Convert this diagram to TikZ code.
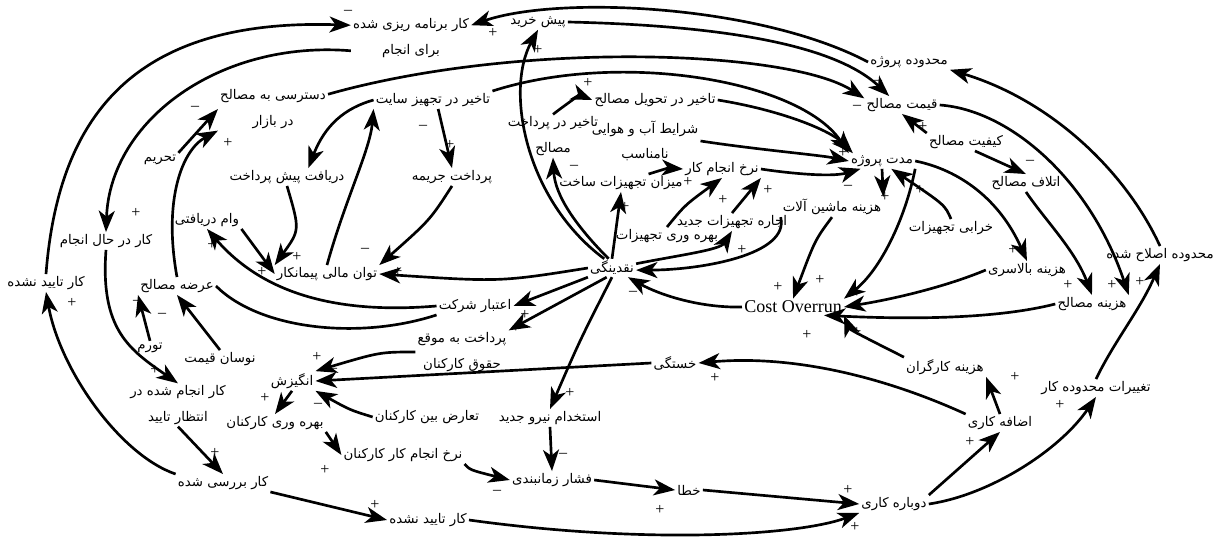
\documentclass[tikz,border=0pt]{standalone}
\usepackage{fontspec}
\setmainfont{Liberation Serif}
\newfontfamily\arabicfont[Script=Arabic]{DejaVu Sans}
\TeXXeTstate=1
\usetikzlibrary{arrows.meta}
\newcommand{\fa}[1]{{\arabicfont\beginR #1\endR}}

\begin{document}
\begin{tikzpicture}[x=0.75pt,y=-0.75pt,
    var/.style={font=\fontsize{10}{19}\selectfont, align=center, inner sep=1.5pt},
    lnk/.style={line width=2pt, -{Stealth[length=16pt,width=12pt,inset=4.5pt]}},
    sgn/.style={font=\fontsize{12}{12}\selectfont, inner sep=0pt}]
\useasboundingbox (0,0) rectangle (1215,539);

% variables
\node[var] (plan) at (411,38) {\fa{کار برنامه ریزی شده}\\\fa{برای انجام}};
\node[var] (prepur) at (538,22) {\fa{پیش خرید}};
\node[var] (scope) at (909,62) {\fa{محدوده پروژه}};
\node[var] (mprice) at (902,105) {\fa{قیمت مصالح}};
\node[var] (access) at (273,109) {\fa{دسترسی به مصالح}\\\fa{در بازار}};
\node[var] (sitedel) at (433,100) {\fa{تاخیر در تجهیز سایت}};
\node[var] (delivdel) at (655,100) {\fa{تاخیر در تحویل مصالح}};
\node[var] (paydel) at (553,136) {\fa{تاخیر در پرداخت}\\\fa{مصالح}};
\node[var] (weather) at (645,141) {\fa{شرایط آب و هوایی}\\\fa{نامناسب}};
\node[var] (mqual) at (966,142) {\fa{کیفیت مصالح}};
\node[var] (dur) at (882,161) {\fa{مدت پروژه}};
\node[var] (sanction) at (160,160) {\fa{تحریم}};
\node[var] (advance) at (287,177) {\fa{دریافت پیش پرداخت}};
\node[var] (penalty) at (452,177) {\fa{پرداخت جریمه}};
\node[var] (equip) at (621,183) {\fa{میزان تجهیزات ساخت}};
\node[var] (rate) at (722,169) {\fa{نرخ انجام کار}};
\node[var] (waste) at (1026,183) {\fa{اتلاف مصالح}};
\node[var] (mach) at (832,207) {\fa{هزینه ماشین آلات}};
\node[var] (rent) at (732,222) {\fa{اجاره تجهیزات جدید}};
\node[var] (loan) at (207,220) {\fa{وام دریافتی}};
\node[var] (wip) at (106,241) {\fa{کار در حال انجام}};
\node[var] (breakd) at (951,228) {\fa{خرابی تجهیزات}};
\node[var] (eqprod) at (667,236) {\fa{بهره وری تجهیزات}};
\node[var] (capab) at (327,274) {\fa{توان مالی پیمانکار}};
\node[var] (cash) at (612,268) {\fa{نقدینگی}};
\node[var] (overh) at (1027,270) {\fa{هزینه بالاسری}};
\node[var] (scopemod) at (1160,255) {\fa{محدوده اصلاح شده}};
\node[var] (unapp1) at (46,283) {\fa{کار تایید نشده}};
\node[var] (supply) at (177,286) {\fa{عرضه مصالح}};
\node[var, font=\fontsize{13.5}{13.5}\selectfont] (cost) at (793,307) {Cost Overrun};
\node[var] (mcost) at (1092,304) {\fa{هزینه مصالح}};
\node[var] (credit) at (475,306) {\fa{اعتبار شرکت}};
\node[var] (infl) at (150,348) {\fa{تورم}};
\node[var] (fluct) at (220,359) {\fa{نوسان قیمت}};
\node[var] (ontime) at (462,352) {\fa{پرداخت به موقع}\\\fa{حقوق کارکنان}};
\node[var] (fatigue) at (675,363) {\fa{خستگی}};
\node[var] (labcost) at (945,367) {\fa{هزینه کارگران}};
\node[var] (motiv) at (292,381) {\fa{انگیزش}};
\node[var] (conflict) at (427,417) {\fa{تعارض بین کارکنان}};
\node[var] (hire) at (550,418) {\fa{استخدام نیرو جدید}};
\node[var] (pend) at (178,405) {\fa{کار انجام شده در}\\\fa{انتظار تایید}};
\node[var] (staffprod) at (275,423) {\fa{بهره وری کارکنان}};
\node[var] (staffrate) at (403,455) {\fa{نرخ انجام کار کارکنان}};
\node[var] (sched) at (552,480) {\fa{فشار زمانبندی}};
\node[var] (err) at (689,490) {\fa{خطا}};
\node[var] (reviewed) at (223,483) {\fa{کار بررسی شده}};
\node[var] (unapp2) at (428,520) {\fa{کار تایید نشده}};
\node[var] (rework) at (894,504) {\fa{دوباره کاری}};
\node[var] (overtime) at (1000,423) {\fa{اضافه کاری}};
\node[var] (scopech) at (1096,388) {\fa{تغییرات محدوده کار}};

% work loop on the left
\draw[lnk] (unapp1.north) .. controls (58,120) and (130,18) .. (plan.168);
\draw[lnk] (plan.192) .. controls (220,40) and (110,120) .. (wip.north);
\draw[lnk] (wip.south) .. controls (100,330) and (130,350) .. (pend.north);
\draw[lnk] (pend.south) -- (reviewed.north);
\draw[lnk] (reviewed.north west) .. controls (120,455) and (60,370) .. (unapp1.south);
\draw[lnk] (reviewed.south east) -- (unapp2.west);
\draw[lnk] (unapp2.east) .. controls (650,545) and (800,535) .. (rework.south west);
\draw[lnk] (scope.west) .. controls (760,5) and (560,-5) .. (plan.12);

% materials
\draw[lnk] (sanction.north east) -- (access.west);
\draw[lnk] (supply.north) .. controls (163,200) and (182,150) .. (access.south west);
\draw[lnk] (infl.north) -- (supply.south west);
\draw[lnk] (fluct.north) -- (supply.south);
\draw[lnk] (access.15) .. controls (520,40) and (790,50) .. (mprice.170);
\draw[lnk] (prepur.east) .. controls (700,25) and (830,40) .. (mprice.145);
\draw[lnk] (mqual.north west) -- (mprice.south);
\draw[lnk] (mqual.-45) -- (waste.north);
\draw[lnk] (waste.south) .. controls (1045,220) and (1075,250) .. (mcost.north);
\draw[lnk] (mprice.east) .. controls (1010,110) and (1090,180) .. (mcost.north east);

% finance
\draw[lnk] (cash.130) .. controls (525,200) and (505,90) .. (prepur.south);
\draw[lnk] (cash.110) .. controls (575,225) and (555,195) .. (paydel.south);
\draw[lnk] (paydel.north) .. controls (565,105) and (580,95) .. (delivdel.west);
\draw[lnk] (cash.north) -- (equip.south);
\draw[lnk] (cash.west) .. controls (500,282) .. (capab.east);
\draw[lnk] (cash.south west) -- (credit.east);
\draw[lnk] (cash.-120) -- (ontime.north east);
\draw[lnk] (cash.south) .. controls (580,340) .. (hire.north);
\draw[lnk] (cash.10) .. controls (680,255) and (720,250) .. (rent.south);
\draw[lnk] (credit.west) .. controls (330,315) and (260,290) .. (loan.south);
\draw[line width=2pt] (credit.south west) .. controls (360,340) and (260,330) .. (supply.east);
\draw[lnk] (loan.south east) -- (capab.west);
\draw[lnk] (penalty.south) .. controls (430,220) .. (capab.north east);
\draw[lnk] (advance.south) .. controls (300,230) .. (capab.north west);
\draw[lnk] (capab.north) .. controls (345,200) and (370,150) .. (sitedel.south west);
\draw[lnk] (sitedel.-60) -- (penalty.north);
\draw[lnk] (sitedel.west) .. controls (345,108) and (325,125) .. ([xshift=16pt]advance.north);
\draw[lnk] (sitedel.north east) .. controls (620,50) and (800,80) .. (dur.north west);

% duration and cost
\draw[lnk] (delivdel.east) .. controls (780,110) and (830,130) .. (dur.165);
\draw[lnk] (weather.east) .. controls (760,150) and (820,155) .. (dur.west);
\draw[lnk] (rate.east) .. controls (780,172) and (830,178) .. (dur.200);
\draw[lnk] (equip.18) .. controls (668,168) .. (rate.west);
\draw[lnk] (eqprod.north) .. controls (685,205) .. (rate.south);
\draw[lnk] (rent.north) -- (rate.south east);
\draw[lnk] (dur.south) -- (mach.north east);
\draw[lnk] (breakd.north) .. controls (945,205) .. (dur.-40);
\draw[lnk] (dur.east) .. controls (960,170) and (1000,200) .. (overh.north);
\draw[lnk] (mach.south west) .. controls (790,255) and (700,270) .. (cash.-5);
\draw[lnk] (mach.south) .. controls (815,240) .. (cost.north);
\draw[lnk] (dur.south east) .. controls (905,220) and (880,270) .. (cost.north east);
\draw[lnk] (overh.west) .. controls (950,285) and (900,298) .. (cost.east);
\draw[lnk] (mcost.west) .. controls (1000,318) and (920,320) .. (cost.-15);
\draw[lnk] (labcost.north west) .. controls (880,345) and (850,330) .. (cost.south east);
\draw[lnk] (cost.west) .. controls (700,308) and (660,295) .. (cash.-30);

% staff and rework
\draw[lnk] (fatigue.west) -- (motiv.east);
\draw[lnk] (ontime.west) .. controls (380,352) .. (motiv.north east);
\draw[lnk] (conflict.west) .. controls (350,410) .. (motiv.south east);
\draw[lnk] (motiv.south) -- (staffprod.north);
\draw[lnk] (staffprod.south east) -- (staffrate.west);
\draw[lnk] (staffrate.south east) .. controls (470,470) .. (sched.west);
\draw[lnk] (hire.south) -- (sched.north);
\draw[lnk] (sched.east) -- (err.west);
\draw[lnk] (err.east) -- (rework.west);
\draw[lnk] (rework.north east) -- (overtime.south);
\draw[lnk] (overtime.north) -- (labcost.south east);
\draw[lnk] (overtime.north west) .. controls (880,375) and (790,355) .. (fatigue.east);
\draw[lnk] (rework.east) .. controls (990,495) and (1060,450) .. (scopech.south);
\draw[lnk] (scopech.north) .. controls (1115,340) and (1140,310) .. (scopemod.south);
\draw[lnk] (scopemod.north) .. controls (1125,170) and (1050,100) .. (scope.south east);

% polarity signs
\foreach \x/\y [count=\i] in {136/213, 493/33, 538/50, 228/143, 588/83, 450/145,
    297/257, 398/272, 262/272, 212/245, 525/315, 516/328, 317/357, 265/398,
    325/470, 570/393, 660/510, 848/490, 855/527, 375/505, 215/453, 155/370,
    72/303, 970/442, 1015/377, 1060/405, 715/378, 1140/282, 1068/285,
    1112/285, 1013/250, 920/190, 923/127, 857/293, 857/332, 807/335,
    778/287, 820/280, 742/250, 768/190, 723/200, 688/182, 625/207, 885/197, 843/153}
    \node[sgn] (p\i) at (\x,\y) {+};
\foreach \x/\y [count=\i] in {348/12, 878/82, 857/107, 195/108, 574/167, 423/127,
    365/250, 333/370, 318/405, 497/492, 563/455, 137/302, 162/315, 1030/162,
    633/293, 848/187}
    \node[sgn] (m\i) at (\x,\y) {--};
\end{tikzpicture}
\end{document}
